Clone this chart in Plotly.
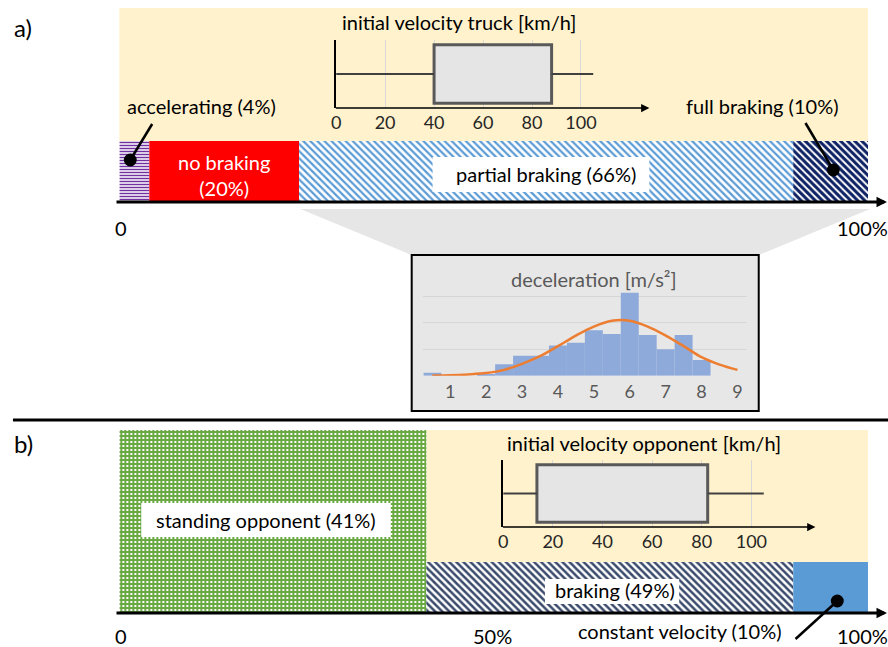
import plotly.graph_objects as go

W, H = 888, 647
FONT = "Lato"


def px(x):
    return x / W


def py(y):
    return 1 - y / H


# ---- data ---------------------------------------------------------------
# a) truck manoeuvre before the collision, share of cases [%]
truck_cases = ["accelerating", "no braking", "partial braking", "full braking"]
truck_shares = [4, 20, 66, 10]

# initial velocity truck [km/h]: min, q1, q3, max
truck_v_stats = [0, 40, 88, 105]

# deceleration histogram [m/s²] (bin centres, relative frequency)
dec_bins = [0.5, 1.0, 1.5, 2.0, 2.5, 3.0, 3.5, 4.0, 4.5, 5.0, 5.5, 6.0, 6.5, 7.0, 7.5, 8.0]
dec_freq = [0.11, 0.0, 0.0, 0.05, 0.43, 0.76, 0.76, 1.14, 1.25, 1.72, 1.58, 3.14, 1.54, 1.0, 1.54, 0.59]
# fitted distribution of the deceleration
fit_x = [0.5, 1.0, 1.5, 2.0, 2.5, 3.0, 3.5, 4.0, 4.5, 5.0, 5.5, 6.0, 6.5, 7.0, 7.5, 8.0, 8.5, 9.0]
fit_y = [0.01, 0.02, 0.05, 0.1, 0.22, 0.45, 0.74, 1.12, 1.52, 1.86, 2.08, 2.08, 1.86, 1.52, 1.12, 0.7, 0.42, 0.22]

# b) opponent manoeuvre, share of cases [%]
opp_cases = ["standing opponent", "braking", "constant velocity"]
opp_shares = [41, 49, 10]

# initial velocity opponent [km/h]: min, q1, q3, max
opp_v_stats = [0, 13.6, 82.4, 105]

velocity_ticks = [0, 20, 40, 60, 80, 100]
dec_ticks = [1, 2, 3, 4, 5, 6, 7, 8, 9]

# ---- styles ---------------------------------------------------------------
truck_styles = [
    dict(color="white", pattern=dict(shape="-", fgcolor="#7030a0", bgcolor="white", size=3, solidity=0.5, fillmode="replace")),
    dict(color="#ff0000"),
    dict(color="white", pattern=dict(shape="\\", fgcolor="#5b9bd5", bgcolor="white", size=5, solidity=0.45, fillmode="replace")),
    dict(color="white", pattern=dict(shape="\\", fgcolor="#0e2163", bgcolor="white", size=5, solidity=0.6, fillmode="replace")),
]
opp_styles = [
    dict(color="#70ad47", pattern=dict(shape="+", fgcolor="#6aa842", bgcolor="white", size=4, solidity=0.75, fillmode="replace")),
    dict(color="white", pattern=dict(shape="\\", fgcolor="#3a4a6b", bgcolor="white", size=5, solidity=0.5, fillmode="replace")),
    dict(color="#5b9bd5"),
]
# bar thickness in panel b (fraction of the panel height)
opp_heights = [1.0, 0.275, 0.275]

fig = go.Figure()


def cumulative(values):
    out, s = [], 0
    for v in values:
        out.append(s)
        s += v
    return out


# a) stacked share bar
for name, share, base, st in zip(truck_cases, truck_shares, cumulative(truck_shares), truck_styles):
    fig.add_trace(go.Bar(
        x=[share], base=[base], y=[0.5], width=[1], orientation="h", name=name,
        marker=dict(line=dict(width=0), **st), xaxis="x", yaxis="y",
    ))

# b) share bar
for name, share, base, st, h in zip(opp_cases, opp_shares, cumulative(opp_shares), opp_styles, opp_heights):
    fig.add_trace(go.Bar(
        x=[share], base=[base], y=[h / 2], width=[h], orientation="h", name=name,
        marker=dict(line=dict(width=0), **st), xaxis="x5", yaxis="y5",
    ))


# box plots of the initial velocity
def add_box(stats, xa, ya):
    vmin, q1, q3, vmax = stats
    for seg in ([vmin, q1], [q3, vmax]):
        fig.add_trace(go.Scatter(x=seg, y=[0.5, 0.5], mode="lines",
                                 line=dict(color="#404040", width=2),
                                 xaxis=xa, yaxis=ya, hoverinfo="skip"))
    fig.add_trace(go.Bar(x=[q3 - q1], base=[q1], y=[0.5], width=[0.86], orientation="h",
                         marker=dict(color="#e5e5e5", line=dict(color="#595959", width=3)),
                         xaxis=xa, yaxis=ya))


add_box(truck_v_stats, "x2", "y2")
add_box(opp_v_stats, "x3", "y3")

# deceleration histogram with fitted curve
fig.add_trace(go.Bar(x=dec_bins, y=dec_freq, width=0.5, marker=dict(color="#8eaadb", line=dict(width=0)),
                     xaxis="x4", yaxis="y4"))
fig.add_trace(go.Scatter(x=fit_x, y=fit_y, mode="lines", line=dict(color="#ed7d31", width=2.5, shape="spline"),
                         xaxis="x4", yaxis="y4"))

# ---- axes -------------------------------------------------------------------
hidden = dict(visible=False, fixedrange=True)
tickfont = dict(family=FONT, size=18, color="#262626")

fig.update_layout(
    xaxis=dict(domain=[px(115), px(868)], range=[0, 100], **hidden),
    yaxis=dict(domain=[py(201), py(141)], range=[0, 1], **hidden),
    xaxis5=dict(domain=[px(115), px(868)], range=[0, 100], anchor="y5", **hidden),
    yaxis5=dict(domain=[py(612), py(430)], range=[0, 1], anchor="x5", **hidden),
    xaxis2=dict(domain=[px(333), px(648)], range=[0, (648 - 333) / 2.4625], anchor="y2",
                tickvals=velocity_ticks, showgrid=True, gridcolor="#d9d9d9", gridwidth=1,
                zeroline=False, showline=False, ticks="", tickfont=tickfont, ticklabelstandoff=2),
    yaxis2=dict(domain=[py(108), py(40)], range=[0, 1], anchor="x2", showticklabels=False,
                showgrid=False, zeroline=False, showline=True, linecolor="black", linewidth=1.5, ticks=""),
    xaxis3=dict(domain=[px(501), px(815)], range=[0, (815 - 501) / 2.496], anchor="y3",
                tickvals=velocity_ticks, showgrid=True, gridcolor="#d9d9d9", gridwidth=1,
                zeroline=False, showline=False, ticks="", tickfont=tickfont, ticklabelstandoff=2),
    yaxis3=dict(domain=[py(527), py(460)], range=[0, 1], anchor="x3", showticklabels=False,
                showgrid=False, zeroline=False, showline=True, linecolor="black", linewidth=1.5, ticks=""),
    xaxis4=dict(domain=[px(420.7), px(746)], range=[0.25, 9.26], anchor="y4",
                tickvals=dec_ticks, showgrid=False, zeroline=False, showline=False, ticks="",
                tickfont=dict(family=FONT, size=18, color="#595959"), ticklabelstandoff=3),
    yaxis4=dict(domain=[py(375.7), py(290)], range=[0, (375.7 - 290) / 26.4], anchor="x4",
                tickvals=[0, 1, 2, 3], showticklabels=False, showgrid=True, gridcolor="#d6d6d6",
                zeroline=False, ticks=""),
)

# ---- decoration shapes -------------------------------------------------------
shapes = [
    # beige backdrop of the velocity panels
    dict(type="rect", xref="paper", yref="paper", x0=px(115), x1=px(868), y0=py(141), y1=py(8),
         fillcolor="#fff2cc", line=dict(width=0), layer="below"),
    dict(type="rect", xref="paper", yref="paper", x0=px(424), x1=px(868), y0=py(562), y1=py(430),
         fillcolor="#fff2cc", line=dict(width=0), layer="below"),
    # zoom funnel towards the deceleration inset
    dict(type="path", xref="paper", yref="paper",
         path=f"M{px(297)},{py(209)} L{px(870)},{py(209)} L{px(758)},{py(255)} L{px(409)},{py(255)} Z",
         fillcolor="#e6e6e6", line=dict(width=0), layer="below"),
    dict(type="rect", xref="paper", yref="paper", x0=px(409), x1=px(758), y0=py(411), y1=py(255),
         fillcolor="#e7e7e7", line=dict(color="black", width=2), layer="below"),
    # separator between a) and b)
    dict(type="line", xref="paper", yref="paper", x0=px(8), x1=px(888), y0=py(420), y1=py(420),
         line=dict(color="black", width=3)),
    # white label boxes
    dict(type="rect", xref="paper", yref="paper", x0=px(430), x1=px(648), y0=py(192), y1=py(157),
         fillcolor="white", line=dict(width=0), layer="above"),
    dict(type="rect", xref="paper", yref="paper", x0=px(137), x1=px(388), y0=py(537), y1=py(503),
         fillcolor="white", line=dict(width=0), layer="above"),
    dict(type="rect", xref="paper", yref="paper", x0=px(543), x1=px(678), y0=py(604), y1=py(579),
         fillcolor="white", line=dict(width=0), layer="above"),
]


def leader(x0, y0, x1, y1, r=6.5):
    shapes.append(dict(type="line", xref="paper", yref="paper", x0=px(x0), y0=py(y0), x1=px(x1), y1=py(y1),
                       line=dict(color="black", width=2.5), layer="above"))
    shapes.append(dict(type="circle", xref="paper", yref="paper", x0=px(x1 - r), x1=px(x1 + r),
                       y0=py(y1 + r), y1=py(y1 - r), fillcolor="black", line=dict(width=0), layer="above"))


leader(148, 124, 126, 160)
leader(805, 123, 833, 170)
leader(795, 639, 837, 601)

# ---- text ---------------------------------------------------------------------
anns = []


def text(t, x, y, size=20, color="black", xanchor="center", xref="paper", xshift=0):
    anns.append(dict(text=t, x=x if xref != "paper" else px(x), y=py(y), xref=xref, yref="paper",
                     showarrow=False, xanchor=xanchor, yanchor="middle", xshift=xshift,
                     font=dict(family=FONT, size=size, color=color)))


def arrow(x_head, y, x_tail, width):
    anns.append(dict(text="", x=px(x_head), y=py(y), xref="paper", yref="paper",
                     ax=x_tail - x_head, ay=0, axref="pixel", ayref="pixel", showarrow=True,
                     arrowhead=2, arrowsize=0.7 if width > 2 else 1.1, arrowwidth=width, arrowcolor="black"))


text("a)", 7, 27, size=24, xanchor="left")
text("b)", 7, 443, size=24, xanchor="left")

tb = cumulative(truck_shares)
ob = cumulative(opp_shares)
text(f"{truck_cases[0]} ({truck_shares[0]}%)", 198, 106)
text(f"{truck_cases[1]}<br>({truck_shares[1]}%)", tb[1] + truck_shares[1] / 2, 175, color="white", xref="x")
text(f"{truck_cases[2]} ({truck_shares[2]}%)", tb[2] + truck_shares[2] / 2, 174, xref="x")
text(f"{truck_cases[3]} ({truck_shares[3]}%)", 762, 106)
text("0", 0, 228, xref="x", xshift=2)
text("100%", 100, 228, xref="x", xshift=-6)

text("initial velocity truck [km/h]", 457, 22)
text("deceleration [m/s²]", 592, 279, color="#595959")

text(f"{opp_cases[0]} ({opp_shares[0]}%)", ob[0] + opp_shares[0] / 2, 520, xref="x5", xshift=-7)
text(f"{opp_cases[1]} ({opp_shares[1]}%)", ob[1] + opp_shares[1] / 2, 590, xref="x5", xshift=5)
text(f"{opp_cases[2]} ({opp_shares[2]}%)", 679, 631)
text("initial velocity opponent [km/h]", 643, 443)
text("0", 0, 636, xref="x5", xshift=2)
text("50%", 50, 636, xref="x5", xshift=-1)
text("100%", 100, 636, xref="x5", xshift=-6)

# axis arrows
arrow(887, 202, 115, 3)
arrow(887, 613, 115, 3)
arrow(648, 108, 333, 1.5)
arrow(815, 527, 501, 1.5)

fig.update_layout(
    width=W, height=H, margin=dict(l=0, r=0, t=0, b=0),
    paper_bgcolor="white", plot_bgcolor="rgba(0,0,0,0)",
    barmode="overlay", showlegend=False,
    font=dict(family=FONT, color="black"),
    shapes=shapes, annotations=anns,
)

fig.write_html("out.html")
